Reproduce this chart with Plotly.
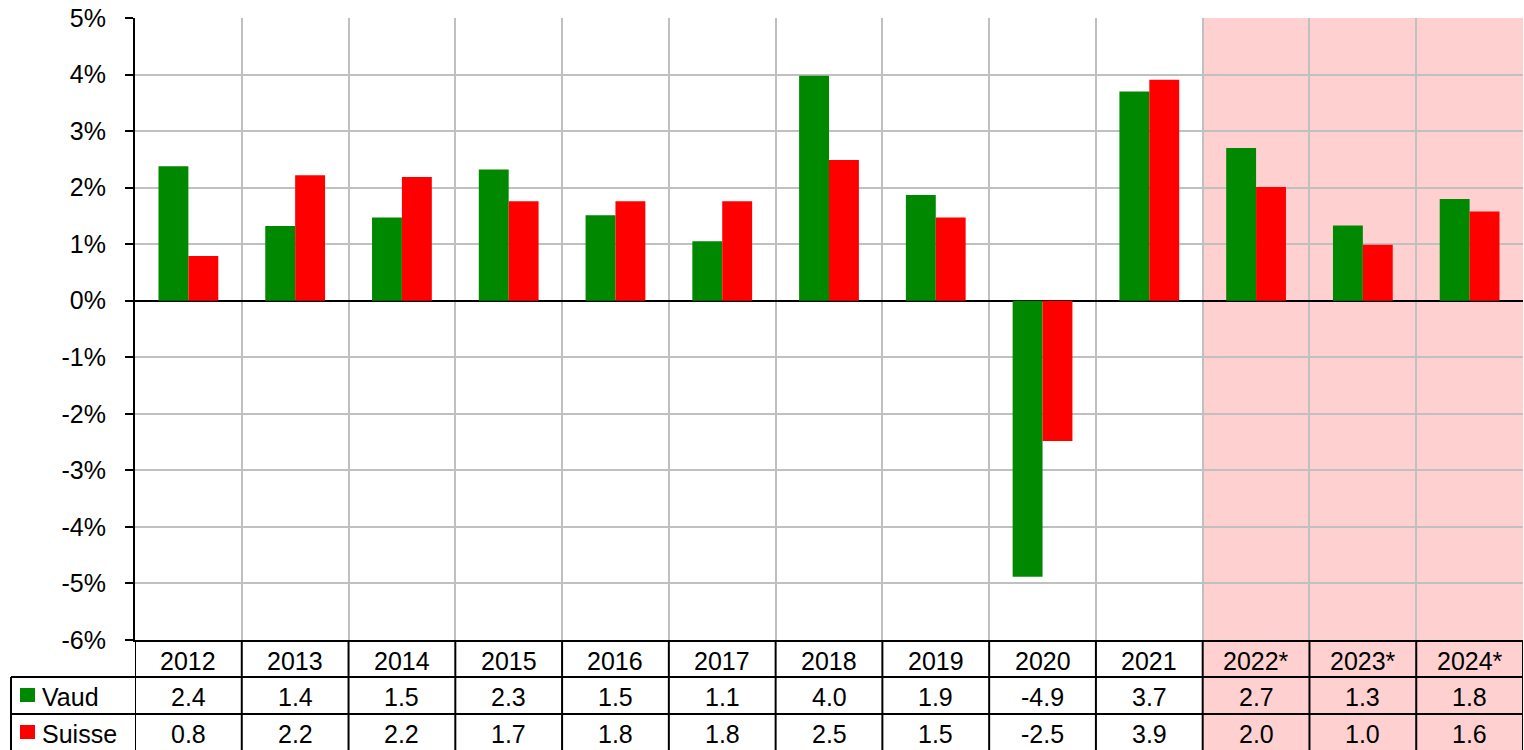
import plotly.graph_objects as go

years = ["2012", "2013", "2014", "2015", "2016", "2017", "2018", "2019", "2020", "2021", "2022*", "2023*", "2024*"]
# values shown in the table
vaud_table = [2.4, 1.4, 1.5, 2.3, 1.5, 1.1, 4.0, 1.9, -4.9, 3.7, 2.7, 1.3, 1.8]
suisse_table = [0.8, 2.2, 2.2, 1.7, 1.8, 1.8, 2.5, 1.5, -2.5, 3.9, 2.0, 1.0, 1.6]
# bar heights (unrounded)
vaud_bars = [2.38, 1.32, 1.47, 2.32, 1.51, 1.05, 3.98, 1.87, -4.88, 3.70, 2.70, 1.33, 1.80]
suisse_bars = [0.79, 2.22, 2.19, 1.76, 1.76, 1.76, 2.49, 1.47, -2.48, 3.91, 2.01, 0.99, 1.58]
series_names = ["Vaud", "Suisse"]
series_colors = ["#008800", "#FF0000"]
forecast_start = 10  # index of first forecast year
y_ticks = [-6, -5, -4, -3, -2, -1, 0, 1, 2, 3, 4, 5]

W, H = 1524, 750
L, R, T, B = 135, 1, 18, 110
PW = W - L - R
PH = H - T - B

def py(pix):  # pixel y -> paper y
    return 1 - (pix - T) / PH

def px(pix):  # pixel x -> paper x
    return (pix - L) / PW

FONT = "Liberation Sans, Arial, sans-serif"
TFS = 25
xs = list(range(len(years)))

fig = go.Figure()
for name, vals, col in zip(series_names, [vaud_bars, suisse_bars], series_colors):
    fig.add_trace(go.Bar(x=xs, y=vals, name=name, marker=dict(color=col, line=dict(width=0)),
                         showlegend=False))

shapes = []
# pink forecast shading (plot + table)
shapes.append(dict(type="rect", xref="x", yref="paper", x0=forecast_start - 0.5, x1=len(years) - 0.5,
                   y0=py(H), y1=1, fillcolor="#FFD0D0", line=dict(width=0), layer="below"))
# table vertical lines
for i in range(len(years) + 1):
    shapes.append(dict(type="line", xref="x", yref="paper", x0=i - 0.5, x1=i - 0.5,
                       y0=py(640), y1=py(H), line=dict(color="black", width=2)))
# table horizontal lines
for yy in [677, 714]:
    shapes.append(dict(type="line", xref="paper", yref="paper", x0=px(11), x1=1,
                       y0=py(yy), y1=py(yy), line=dict(color="black", width=2)))
# left legend box vertical line
shapes.append(dict(type="line", xref="paper", yref="paper", x0=px(11), x1=px(11),
                   y0=py(677), y1=py(H), line=dict(color="black", width=2)))

annotations = []
row_centers = [661, 697, 734]
for i, yr in enumerate(years):
    annotations.append(dict(x=i, y=py(row_centers[0]), xref="x", yref="paper", text=yr,
                            showarrow=False, xanchor="center", yanchor="middle",
                            font=dict(size=TFS, color="black", family=FONT)))
for r, vals in enumerate([vaud_table, suisse_table]):
    for i, v in enumerate(vals):
        annotations.append(dict(x=i, y=py(row_centers[r + 1]), xref="x", yref="paper",
                                text=f"{v:.1f}", showarrow=False, xanchor="center", yanchor="middle",
                                font=dict(size=TFS, color="black", family=FONT)))
    # legend key + name
    shapes.append(dict(type="rect", xref="paper", yref="paper", x0=px(20), x1=px(35),
                       y0=py(row_centers[r + 1] - 9), y1=py(row_centers[r + 1] + 5),
                       fillcolor=series_colors[r], line=dict(width=0)))
    annotations.append(dict(x=px(40), y=py(row_centers[r + 1]), xref="paper", yref="paper",
                            text=series_names[r], showarrow=False, xanchor="left", yanchor="middle",
                            font=dict(size=TFS, color="black", family=FONT)))

fig.update_layout(
    width=W, height=H,
    margin=dict(l=L, r=R, t=T, b=B),
    paper_bgcolor="white", plot_bgcolor="rgba(0,0,0,0)",
    barmode="group", bargap=0.44, bargroupgap=0,
    shapes=shapes, annotations=annotations,
    font=dict(family=FONT, color="black"),
    xaxis=dict(range=[-0.5, len(years) - 0.5], tickmode="array",
               tickvals=[i - 0.5 for i in range(len(years) + 1)],
               showticklabels=False, ticks="", showgrid=True, gridcolor="#C0C0C0", gridwidth=2,
               showline=True, linecolor="black", linewidth=2, zeroline=False, fixedrange=True),
    yaxis=dict(range=[-6, 5], tickmode="array", tickvals=y_ticks,
               ticktext=[f"{t}%" for t in y_ticks], tickfont=dict(size=25, color="black"),
               ticks="outside", ticklen=8, tickwidth=2, tickcolor="black", ticklabelstandoff=14,
               showgrid=True, gridcolor="#C0C0C0", gridwidth=2,
               zeroline=True, zerolinecolor="black", zerolinewidth=2,
               showline=True, linecolor="black", linewidth=2, fixedrange=True),
)

fig.write_html("out.html", config={"displayModeBar": False},
               post_script="document.body.style.margin='0';document.body.style.overflow='hidden';")
